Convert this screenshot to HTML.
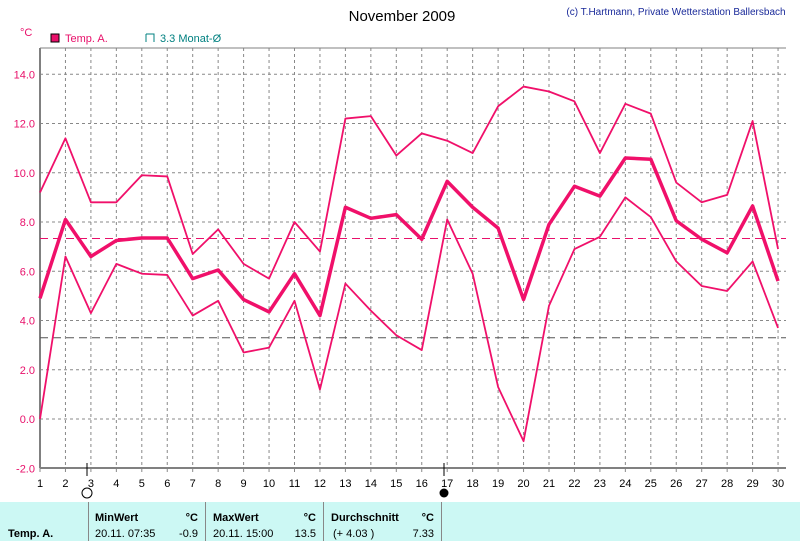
<!DOCTYPE html>
<html><head><meta charset="utf-8"><style>
body{margin:0;background:#fff;font-family:"Liberation Sans",sans-serif;}
svg{display:block}
</style></head><body>
<svg width="800" height="541" xmlns="http://www.w3.org/2000/svg">
<text x="402" y="21" font-size="15" text-anchor="middle">November 2009</text>
<text x="676" y="15" font-size="10" fill="#1a2a9a" text-anchor="middle">(c) T.Hartmann, Private Wetterstation Ballersbach</text>
<text x="20" y="36" font-size="11" fill="#e8106a">°C</text>
<rect x="51" y="34" width="8" height="8" fill="#e8106a" stroke="#000"/>
<text x="65" y="42" font-size="11" fill="#e8106a">Temp. A.</text>
<path d="M146 34 h8 v8 M146 34 v8" stroke="#008080" fill="none"/>
<text x="160" y="42" font-size="11" fill="#008080">3.3 Monat-Ø</text>
<g id="grid"></g>
<g id="axes"></g>
<g id="series"></g>
<rect x="0" y="502" width="800" height="39" fill="#ccf8f4"/>
<g stroke="#888" stroke-width="1">
<line x1="88.5" y1="502" x2="88.5" y2="541"/><line x1="205.5" y1="502" x2="205.5" y2="541"/><line x1="323.5" y1="502" x2="323.5" y2="541"/><line x1="441.5" y1="502" x2="441.5" y2="541"/>
</g>
<g font-size="11" font-weight="bold">
<text x="8" y="537">Temp. A.</text>
<text x="95" y="521">MinWert</text>
<text x="198" y="521" text-anchor="end">°C</text>
<text x="213" y="521">MaxWert</text>
<text x="316" y="521" text-anchor="end">°C</text>
<text x="331" y="521">Durchschnitt</text>
<text x="434" y="521" text-anchor="end">°C</text>
</g>
<g font-size="11">
<text x="95" y="537">20.11.  07:35</text>
<text x="198" y="537" text-anchor="end">-0.9</text>
<text x="213" y="537">20.11.  15:00</text>
<text x="316" y="537" text-anchor="end">13.5</text>
<text x="333" y="537">(+ 4.03 )</text>
<text x="434" y="537" text-anchor="end">7.33</text>
</g>
</svg>
<script>
const days=[1,2,3,4,5,6,7,8,9,10,11,12,13,14,15,16,17,18,19,20,21,22,23,24,25,26,27,28,29,30];
const maxVals=[9.2,11.4,8.8,8.8,9.9,9.85,6.7,7.7,6.3,5.7,8.0,6.8,12.2,12.3,10.7,11.6,11.3,10.8,12.7,13.5,13.3,12.9,10.8,12.8,12.4,9.6,8.8,9.1,12.1,6.9];
const meanVals=[4.9,8.1,6.6,7.25,7.35,7.35,5.7,6.05,4.85,4.35,5.9,4.2,8.6,8.15,8.3,7.3,9.65,8.6,7.75,4.85,7.9,9.45,9.05,10.6,10.55,8.05,7.3,6.75,8.65,5.6];
const minVals=[0.0,6.6,4.3,6.3,5.9,5.85,4.2,4.8,2.7,2.9,4.8,1.2,5.5,4.4,3.4,2.8,8.1,5.9,1.3,-0.9,4.6,6.9,7.4,9.0,8.2,6.4,5.4,5.2,6.4,3.7];
const yTicks=[-2,0,2,4,6,8,10,12,14];
const monthAvg=7.33, longAvg=3.3;
const ns="http://www.w3.org/2000/svg";
const X=d=>40+(d-1)*25.45;
const Y=v=>419-v*24.625;
function mk(p,t,a){const e=document.createElementNS(ns,t);for(const k in a)e.setAttribute(k,a[k]);p.appendChild(e);return e;}
const grid=document.getElementById('grid'),axes=document.getElementById('axes'),ser=document.getElementById('series');
days.forEach(d=>{if(d>1){const l=mk(grid,'line',{x1:X(d),x2:X(d),y1:48,y2:468,stroke:'#888','stroke-dasharray':'3,3'});

}
const t=mk(axes,'text',{x:X(d),y:487,'font-size':11,'text-anchor':'middle'});t.textContent=d;


mk(axes,'line',{x1:X(d),x2:X(d),y1:468,y2:472,stroke:'#888'});});
yTicks.forEach(v=>{if(v>-2){const l=mk(grid,'line',{x1:40,x2:786,y1:Y(v),y2:Y(v),stroke:'#888','stroke-dasharray':'3,3'});

}
const t=mk(axes,'text',{x:35,y:Y(v)+4,'font-size':11,fill:'#e8106a','text-anchor':'end'});t.textContent=v.toFixed(1);

});
mk(axes,'line',{x1:40,x2:786,y1:48,y2:48,stroke:'#808080','stroke-width':1});
mk(axes,'line',{x1:40,x2:40,y1:48,y2:468,stroke:'#808080','stroke-width':2});
mk(axes,'line',{x1:40,x2:786,y1:468,y2:468,stroke:'#808080','stroke-width':2});
mk(axes,'line',{x1:87,x2:87,y1:463,y2:476,stroke:'#000'});
mk(axes,'circle',{cx:87,cy:493,r:5,fill:'#fff',stroke:'#000'});
mk(axes,'line',{x1:444,x2:444,y1:463,y2:476,stroke:'#000'});
mk(axes,'circle',{cx:444,cy:493,r:4.5,fill:'#000'});
const a1=mk(ser,'line',{x1:40,x2:786,y1:Y(monthAvg),y2:Y(monthAvg),stroke:'#e8106a','stroke-dasharray':'8,5'});


const a2=mk(ser,'line',{x1:40,x2:786,y1:Y(longAvg),y2:Y(longAvg),stroke:'#555','stroke-dasharray':'8,5'});


[[maxVals,1.8,'max-temp-line'],[minVals,1.8,'min-temp-line'],[meanVals,3.5,'mean-temp-line']].forEach(([arr,w,n])=>{
const p=mk(ser,'polyline',{points:arr.map((v,i)=>X(days[i])+','+Y(v)).join(' '),fill:'none',stroke:'#f0106a','stroke-width':w,'stroke-linejoin':'round'});

});
</script>
</body></html>
